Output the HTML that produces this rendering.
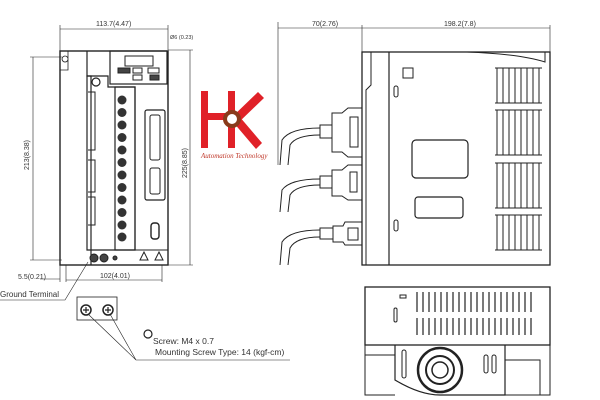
<!DOCTYPE html>
<html><head><meta charset="utf-8"><style>
html,body{margin:0;padding:0;background:#fff;width:600px;height:400px;overflow:hidden}
svg{display:block}
text{font-family:"Liberation Sans",sans-serif;fill:#333}
</style></head><body>
<svg width="600" height="400" viewBox="0 0 600 400" xmlns="http://www.w3.org/2000/svg">
<g stroke="#222" fill="none" stroke-width="1">
<!-- left front view dims -->
<line x1="60" y1="29" x2="168" y2="29" stroke-width="0.6"/>
<line x1="60" y1="25" x2="60" y2="52" stroke-width="0.6"/>
<line x1="168" y1="25" x2="168" y2="50" stroke-width="0.6"/>
<line x1="33" y1="57" x2="33" y2="260" stroke-width="0.6"/>
<line x1="30" y1="57" x2="62" y2="57" stroke-width="0.6"/>
<line x1="30" y1="260" x2="62" y2="260" stroke-width="0.6"/>
<line x1="190" y1="50" x2="190" y2="265" stroke-width="0.6"/>
<line x1="168" y1="50" x2="193" y2="50" stroke-width="0.6"/>
<line x1="168" y1="265" x2="193" y2="265" stroke-width="0.6"/>
<line x1="66" y1="280" x2="162" y2="280" stroke-width="0.6"/>
<line x1="60" y1="265" x2="60" y2="282" stroke-width="0.6"/>
<line x1="66" y1="265" x2="66" y2="282" stroke-width="0.6"/>
<line x1="162" y1="265" x2="162" y2="282" stroke-width="0.6"/>
<line x1="40" y1="279" x2="60" y2="279" stroke-width="0.6"/>
<!-- body -->
<rect x="60" y="51" width="108" height="214" stroke-width="1.4"/>
<path d="M60 51 L60 70 L68 70 L68 51 M65 56 a3 3 0 1 0 0.1 0" stroke-width="0.8"/>
<path d="M87 51 L87 76 L91 76 L91 265" stroke-width="1.2"/>
<path d="M87 76 L87 250 L135 250 L135 87 L108 87 L108 76 Z" stroke-width="1.2"/>
<rect x="110" y="51" width="57" height="33" stroke-width="1.2"/>
<rect x="125" y="56" width="28" height="10"/>
<rect x="118" y="68" width="12" height="5" fill="#444"/>
<rect x="133" y="68" width="9" height="5"/>
<rect x="148" y="68" width="11" height="5"/>
<rect x="133" y="75" width="9" height="5"/>
<rect x="150" y="75" width="9" height="5" fill="#444"/>
<circle cx="96" cy="82" r="4" stroke-width="1.2"/>
<path d="M88 92 L95 92 L95 150 L88 150 M88 160 L95 160 L95 192 L88 192 M88 197 L95 197 L95 225 L88 225" stroke-width="1"/>
<rect x="115" y="87" width="20" height="163" stroke-width="1.2"/>
<g fill="#333" stroke="none">
<circle cx="122" cy="100" r="4.5"/><circle cx="122" cy="112.5" r="4.5"/><circle cx="122" cy="125" r="4.5"/><circle cx="122" cy="137.5" r="4.5"/><circle cx="122" cy="150" r="4.5"/><circle cx="122" cy="162.5" r="4.5"/><circle cx="122" cy="175" r="4.5"/><circle cx="122" cy="187.5" r="4.5"/><circle cx="122" cy="200" r="4.5"/><circle cx="122" cy="212.5" r="4.5"/><circle cx="122" cy="225" r="4.5"/><circle cx="122" cy="237" r="4.5"/>
</g>
<rect x="145" y="110" width="20" height="90" rx="2" stroke-width="1.2"/>
<rect x="150" y="115" width="10" height="45" rx="2"/>
<rect x="150" y="168" width="10" height="26" rx="2"/>
<rect x="151" y="223" width="8" height="16" rx="3" stroke-width="1.4"/>
<line x1="87" y1="250" x2="168" y2="250"/>
<circle cx="94" cy="258" r="4" fill="#444"/><circle cx="104" cy="258" r="4" fill="#444"/><circle cx="115" cy="258" r="2" fill="#444"/>
<path d="M140 260 l4 -8 l4 8 z M155 260 l4 -8 l4 8 z"/>
<!-- ground terminal leader -->
<path d="M0 300 L65 300 L88 262" stroke-width="0.6"/>
<rect x="77" y="297" width="40" height="23" stroke-width="0.8"/>
<circle cx="86" cy="310" r="5" stroke-width="1.5"/><circle cx="108" cy="310" r="5" stroke-width="1.5"/>
<path d="M83 310h6M86 307v6M105 310h6M108 307v6" stroke-width="1.2"/>
<path d="M88 314 L136 360 L290 360 M110 314 L136 360" stroke-width="0.6"/>
<circle cx="148" cy="334" r="4" stroke-width="1.2"/>
<!-- right side view dims -->
<line x1="278" y1="28" x2="550" y2="28" stroke-width="0.6"/>
<line x1="278" y1="22" x2="278" y2="165" stroke-width="0.6"/>
<line x1="362" y1="25" x2="362" y2="52" stroke-width="0.6"/>
<line x1="550" y1="25" x2="550" y2="52" stroke-width="0.6"/>
<!-- side body -->
<rect x="362" y="52" width="188" height="213" stroke-width="1.3"/>
<line x1="389" y1="52" x2="389" y2="265" stroke-width="1.2"/>
<path d="M362 52 L371 52 L371 85 L366 90 L366 265" stroke-width="1"/>
<path d="M467 52 Q520 54 545 62 L545 52" stroke-width="1"/>
<rect x="403" y="68" width="10" height="10"/>
<rect x="394" y="86" width="4" height="11" rx="2"/>
<rect x="394" y="220" width="4" height="11" rx="2"/>
<rect x="412" y="140" width="56" height="38" rx="4" stroke-width="1.2"/>
<rect x="415" y="197" width="48" height="21" rx="3" stroke-width="1.2"/>
<g stroke-width="1">
<path d="M497 68v35M503 68v35M509 68v35M515 68v35M521 68v35M527 68v35M533 68v35M539 68v35 M495 68h47M495 103h47"/>
<path d="M497 110v45M503 110v45M509 110v45M515 110v45M521 110v45M527 110v45M533 110v45M539 110v45 M495 110h47M495 155h47"/>
<path d="M497 163v45M503 163v45M509 163v45M515 163v45M521 163v45M527 163v45M533 163v45M539 163v45 M495 163h47M495 208h47"/>
<path d="M497 215v35M503 215v35M509 215v35M515 215v35M521 215v35M527 215v35M533 215v35M539 215v35 M495 215h47M495 250h47"/>
</g>
<!-- connectors & cables -->
<path d="M362 108 L348 108 L342 113 L332 113 L332 152 L342 152 L348 157 L362 157"/>
<rect x="350" y="117" width="8" height="30"/>
<path d="M332 125 L320 125 L320 138 L332 138"/>
<path d="M320 128 Q290 128 282 140 L280 165 M320 135 Q296 135 290 145 L288 165" stroke-width="1"/>
<path d="M362 165 L348 165 L342 170 L332 170 L332 196 L342 196 L348 200 L362 200"/>
<rect x="350" y="172" width="7" height="20"/>
<path d="M332 176 L320 176 L320 188 L332 188"/>
<path d="M320 179 Q290 179 282 190 L280 212 M320 185 Q296 185 290 195 L288 212" stroke-width="1"/>
<path d="M362 222 L345 222 L343 226 L333 226 L333 242 L343 242 L345 245 L362 245"/>
<rect x="348" y="228" width="10" height="12"/>
<path d="M333 228 L320 228 L320 239 L333 239"/>
<path d="M320 230 Q290 230 282 242 L280 265 M320 237 Q296 237 290 248 L288 265" stroke-width="1"/>
<!-- bottom view -->
<rect x="365" y="287" width="185" height="58" stroke-width="1.3"/>
<path d="M365 345 L365 395 L395 395 M550 345 L550 395 L505 395" stroke-width="1"/>
<path d="M395 345 L395 380 Q420 395 440 395 L505 395 L505 345" stroke-width="1.2"/>
<path d="M505 360 L540 360 L540 395 M365 355 L395 355" stroke-width="1"/>
<circle cx="440" cy="370" r="22" stroke-width="2.5"/>
<circle cx="440" cy="370" r="14" stroke-width="2"/>
<circle cx="440" cy="370" r="8" stroke-width="1.5"/>
<rect x="402" y="350" width="4" height="28" rx="2"/>
<rect x="484" y="355" width="4" height="18" rx="2"/><rect x="492" y="355" width="4" height="18" rx="2"/>
<g stroke-width="1.2">
<path d="M417 292v20M423 292v20M429 292v20M435 292v20M441 292v20M447 292v20M453 292v20M459 292v20M465 292v20M471 292v20M477 292v20M483 292v20M489 292v20M495 292v20M501 292v20M507 292v20M513 292v20M519 292v20M525 292v20M531 292v20"/>
<path d="M417 318v17M423 318v17M429 318v17M435 318v17M441 318v17M447 318v17M453 318v17M459 318v17M465 318v17M471 318v17M477 318v17M483 318v17M489 318v17M495 318v17M501 318v17M507 318v17M513 318v17M519 318v17M525 318v17M531 318v17"/>
</g>
<rect x="400" y="295" width="6" height="3"/>
<rect x="394" y="308" width="3" height="14" rx="1.5"/>
</g>
<!-- HK logo -->
<g fill="#e02128">
<rect x="201" y="91" width="7" height="57"/>
<rect x="201" y="113" width="30" height="7"/>
<rect x="228" y="91" width="7" height="57"/>
<polygon points="231,118 258,92 264,98 237,124"/>
<polygon points="233,122 239,116 262,143 256,149"/>
</g>
<circle cx="232" cy="119" r="7" fill="#fff" stroke="#8a3a1a" stroke-width="4"/>
<text x="201" y="158" font-size="7" font-style="italic" style="fill:#c0392b;font-family:'Liberation Serif',serif">Automation Technology</text>
<!-- texts -->
<g font-size="7">
<text x="96" y="26">113.7(4.47)</text>
<text x="170" y="39" font-size="5.5">Ø6 (0.23)</text>
<text x="29" y="170" transform="rotate(-90 29 170)">213(8.38)</text>
<text x="187" y="178" transform="rotate(-90 187 178)">225(8.85)</text>
<text x="18" y="279">5.5(0.21)</text>
<text x="100" y="278">102(4.01)</text>
<text x="0" y="297" font-size="8">Ground Terminal</text>
<text x="153" y="344" font-size="8.5">Screw: M4 x 0.7</text>
<text x="155" y="355" font-size="8.5">Mounting Screw Type: 14 (kgf-cm)</text>
<text x="312" y="26">70(2.76)</text>
<text x="444" y="26">198.2(7.8)</text>
</g>
</svg>
</body></html>
